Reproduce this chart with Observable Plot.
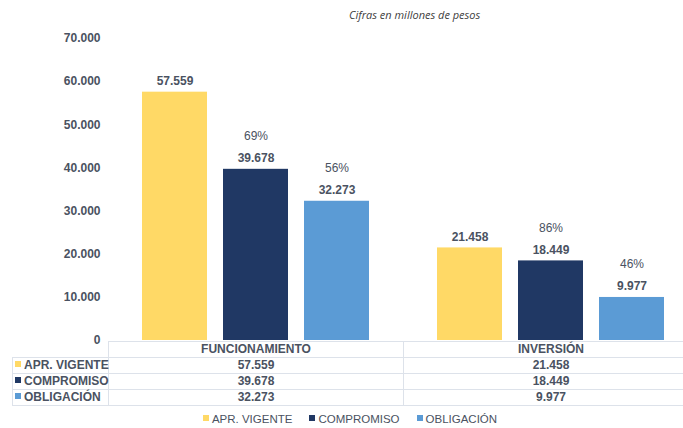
<!DOCTYPE html>
<html>
<head>
<meta charset="utf-8">
<script src="https://cdn.jsdelivr.net/npm/d3@7"></script>
<script src="https://cdn.jsdelivr.net/npm/@observablehq/plot@0.6"></script>
<style>
  html, body { margin: 0; padding: 0; background: #fff; overflow: hidden; }
  #wrap { position: relative; width: 683px; height: 428px; overflow: hidden; font-family: "Liberation Sans", Arial, sans-serif; color: #4a5261; }
  #subtitle { position: absolute; top: 7px; left: 349px; font-size: 11px; font-style: italic; color: #404040; font-family: "Open Sans", "Liberation Sans", sans-serif; }
  #chart { position: absolute; top: 0; left: 0; width: 698px; }
  #chart svg { max-width: none !important; }
  #tbl { position: absolute; top: 341px; left: 12px; width: 686px; table-layout: fixed; border-collapse: collapse; font-size: 12px; font-weight: bold; color: #4a5261; }
  #tbl td { border: 1px solid #dde2ea; padding: 0; height: 15px; line-height: 15px; text-align: center; white-space: nowrap; overflow: visible; }
  #tbl td.lab { text-align: left; padding-left: 2px; }
  #tbl td.empty { border-top: none; border-left: none; }
  .sw { display: inline-block; width: 6px; height: 6px; margin-right: 3px; vertical-align: 2px; }
  #legend { position: absolute; top: 413px; left: 0; width: 700px; display: flex; justify-content: center; gap: 17px; font-size: 11.5px; color: #4a5261; }
  #legend span.item { white-space: nowrap; }
</style>
</head>
<body>
<div id="wrap">
  <div id="subtitle">Cifras en millones de pesos</div>
  <div id="chart"></div>
  <table id="tbl"></table>
  <div id="legend"></div>
</div>
<script>
const categories = ["FUNCIONAMIENTO", "INVERSIÓN"];
const series = ["APR. VIGENTE", "COMPROMISO", "OBLIGACIÓN"];
const aprVigente = [57559, 21458];
const compromiso = [39678, 18449];
const obligacion = [32273, 9977];
const pctCompromiso = ["69%", "86%"];
const pctObligacion = ["56%", "46%"];
const yTicks = [0, 10000, 20000, 30000, 40000, 50000, 60000, 70000];
const colors = ["#FFD966", "#203864", "#5B9BD5"];

const fmt = v => d3.format(",")(v).replace(/,/g, ".");
const seriesValues = [aprVigente, compromiso, obligacion];
const data = [];
categories.forEach((c, i) => {
  series.forEach((s, j) => {
    data.push({cat: c, serie: s, value: seriesValues[j][i],
      pct: j === 1 ? pctCompromiso[i] : j === 2 ? pctObligacion[i] : null});
  });
});

const plot = Plot.plot({
  width: 698,
  height: 348,
  marginTop: 38,
  marginBottom: 8,
  marginLeft: 108,
  marginRight: 0,
  style: {fontFamily: '"Liberation Sans", Arial, sans-serif', color: "#4a5261", background: "transparent", overflow: "visible", maxWidth: "none"},
  fx: {domain: categories, padding: 0, axis: null},
  x: {domain: series, paddingInner: 0.2, paddingOuter: 0.42, axis: null},
  y: {domain: [0, 70000], axis: null},
  color: {domain: series, range: colors},
  marks: [
    Plot.axisY({ticks: yTicks, tickSize: 0, tickPadding: 8, tickFormat: fmt, fontSize: 12, fontWeight: "bold", label: null}),
    Plot.barY(data, {fx: "cat", x: "serie", y: "value", fill: "serie"}),
    Plot.text(data, {fx: "cat", x: "serie", y: "value", text: d => fmt(d.value), dy: -11, fontSize: 12, fontWeight: "bold"}),
    Plot.text(data.filter(d => d.pct), {fx: "cat", x: "serie", y: "value", text: "pct", dy: -33, fontSize: 12})
  ]
});
document.getElementById("chart").appendChild(plot);

// data table
const tbl = document.getElementById("tbl");
let html = '<colgroup><col style="width:96px"><col style="width:295px"><col style="width:295px"></colgroup>';
html += '<tr><td class="empty"></td>' + categories.map(c => `<td>${c}</td>`).join("") + '</tr>';
series.forEach((s, j) => {
  html += `<tr><td class="lab"><span class="sw" style="background:${colors[j]}"></span>${s}</td>` +
    seriesValues[j].map(v => `<td>${fmt(v)}</td>`).join("") + '</tr>';
});
tbl.innerHTML = html;

// legend
document.getElementById("legend").innerHTML = series.map((s, j) =>
  `<span class="item"><span class="sw" style="background:${colors[j]}"></span>${s}</span>`).join("");
</script>
</body>
</html>
